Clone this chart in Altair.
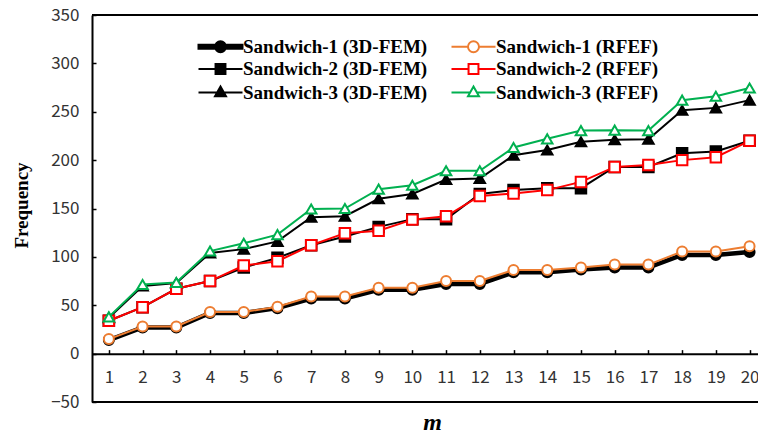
import altair as alt
import pandas as pd

# Mode number m and natural frequencies for three sandwich plates
modes = list(range(1, 21))

s1_fem = [14, 27, 27, 42, 42, 47, 57, 57, 66, 66, 72, 72, 84, 84, 87, 89, 89, 102, 102, 105]
s1_rfef = [15, 28, 28, 43, 43, 48.5, 59, 59, 68, 68, 75, 75, 86.5, 86.5, 89, 92, 92, 105.5, 105.5, 111]
s2_fem = [34, 48, 67, 75, 89, 99, 112, 121, 131, 139, 139, 165, 169, 171, 171, 193, 193, 207, 209, 220]
s2_rfef = [34, 48, 67, 75, 91, 95.5, 112, 124.5, 127, 138.5, 142, 163, 165.5, 169, 177.5, 193, 195, 200, 203, 220]
s3_fem = [37, 70, 73, 104, 108, 116, 141, 142, 160, 165, 180, 181, 205, 210.5, 219, 221, 221.5, 251.5, 254, 262]
s3_rfef = [38, 71.5, 73.5, 106, 114, 123, 149.5, 150, 170, 174, 189, 189, 213, 222, 230.5, 231, 230.5, 262, 266, 274.5]

# legend order: first column 3D-FEM, second column RFEF
series_names = [
    "Sandwich-1 (3D-FEM)", "Sandwich-2 (3D-FEM)", "Sandwich-3 (3D-FEM)",
    "Sandwich-1 (RFEF)", "Sandwich-2 (RFEF)", "Sandwich-3 (RFEF)",
]
series_values = [s1_fem, s2_fem, s3_fem, s1_rfef, s2_rfef, s3_rfef]
y_ticks = list(range(-50, 351, 50))

# styling per series: line colour, marker fill, marker shape, line width
line_colors = ["black", "black", "black", "#ED7D31", "#FF0000", "#00B050"]
marker_fills = ["black", "black", "black", "white", "white", "white"]
marker_shapes = ["circle", "square", "triangle-up", "circle", "square", "triangle-up"]
marker_sizes = [100, 110, 110, 100, 110, 110]
line_widths = [4.5, 2, 2, 2, 2, 2]

# legend glyphs: a short line through the marker (unit box, marker radius 1)
legend_paths = [
    "M-4,-0.38H4V0.38H-4Z M1,0A1,1 0 1,1 -1,0A1,1 0 1,1 1,0Z",
    "M-4,0H4 M-0.9,-0.9H0.9V0.9H-0.9Z",
    "M-4,0H4 M0,-1.1L1,0.7H-1Z",
    "M-4,0H-1M1,0H4 M1,0A1,1 0 1,1 -1,0A1,1 0 1,1 1,0Z",
    "M-4,0H-0.9M0.9,0H4 M-0.9,-0.9H0.9V0.9H-0.9Z",
    "M-4,0H-0.6M0.6,0H4 M0,-1.1L1,0.7H-1Z",
]

rows = []
for name, vals in zip(series_names, series_values):
    for m, f in zip(modes, vals):
        rows.append({"m": m, "f": f, "series": name})
df = pd.DataFrame(rows)

W, H = 666, 387
Y_MIN, Y_MAX = -50, 350
X_MIN, X_MAX = 0.5, 20.25
zero_from_top = H * (Y_MAX - 0) / (Y_MAX - Y_MIN)
zero_from_bottom = H - zero_from_top

num_font = "Noto Sans CJK SC"
serif = "Liberation Serif"

x_scale = alt.Scale(domain=[X_MIN, X_MAX], nice=False, zero=False)
y_scale = alt.Scale(domain=[Y_MIN, Y_MAX], nice=False, zero=False)

X = alt.X(
    "m:Q", scale=x_scale,
    axis=alt.Axis(
        orient="bottom", offset=-zero_from_bottom, values=modes, format="d",
        ticks=False, tickSize=0, labelPadding=16, labelFont=num_font,
        labelFontSize=17, labelColor="#333333", domainColor="black",
        domainWidth=2, grid=False, title="m", titleFont=serif,
        titleFontSize=24, titleFontWeight="bold", titleFontStyle="italic",
        titleColor="black", titleX=340, titleY=76, titleBaseline="alphabetic",
        titleAlign="center",
    ),
)
Y = alt.Y(
    "f:Q", scale=y_scale,
    axis=alt.Axis(
        orient="left", values=y_ticks, ticks=False, tickSize=0, labelPadding=13,
        labelFont=num_font, labelFontSize=17, labelColor="#333333",
        domainColor="black", domainWidth=2, grid=False, title="Frequency",
        titleFont=serif, titleFontSize=19, titleFontWeight="bold",
        titleColor="black", titleX=-71, titleY=190, titleAngle=270,
        titleBaseline="middle", titleAlign="center",
    ),
)

base = alt.Chart(df)
data_layers = []
for i, name in enumerate(series_names):
    sub = base.transform_filter(alt.datum.series == name)
    data_layers.append(
        sub.mark_line(color=line_colors[i], strokeWidth=line_widths[i]).encode(x=X, y=Y)
    )
    data_layers.append(
        sub.mark_point(
            shape=marker_shapes[i], size=marker_sizes[i], filled=False,
            fill=marker_fills[i], stroke=line_colors[i], strokeWidth=2,
            opacity=1,
        ).encode(x=X, y=Y)
    )
plot = alt.layer(*data_layers)

# inward-pointing ticks on the zero line and on the left frame
ticks = base.mark_point(opacity=0).encode(
    x=alt.X("m:Q", scale=x_scale, axis=alt.Axis(
        orient="top", offset=-zero_from_top, values=modes, labels=False,
        domain=False, tickSize=4, tickWidth=1.5, tickColor="black",
        grid=False, title="")),
    y=alt.Y("f:Q", scale=y_scale, axis=alt.Axis(
        orient="right", offset=-W, values=y_ticks, labels=False,
        domain=False, tickSize=4, tickWidth=1.5, tickColor="black",
        grid=False, title="")),
)

frame_src = alt.Chart(alt.Data(values=[{}]))
top_line = frame_src.mark_rule(color="black", strokeWidth=2).encode(
    x=alt.value(0), x2=alt.value(W), y=alt.value(0))
bottom_line = frame_src.mark_rule(color="black", strokeWidth=2).encode(
    x=alt.value(0), x2=alt.value(W), y=alt.value(H))

leg = alt.Legend(
    orient="none", legendX=119, legendY=22, columns=2, title=None,
    labelFont=serif, labelFontSize=19, labelFontWeight="bold",
    labelColor="black", labelLimit=400, labelOffset=13, symbolSize=121,
    symbolStrokeWidth=2, rowPadding=2.5, columnPadding=19, padding=0,
)
legend_layer = base.transform_filter("false").mark_point(strokeWidth=2, opacity=1).encode(
    stroke=alt.Stroke("series:N", scale=alt.Scale(domain=series_names, range=line_colors), legend=leg),
    fill=alt.Fill("series:N", scale=alt.Scale(domain=series_names, range=marker_fills), legend=leg),
    shape=alt.Shape("series:N", scale=alt.Scale(domain=series_names, range=legend_paths), legend=leg),
)

chart = alt.layer(plot, ticks, top_line, bottom_line, legend_layer).resolve_axis(
    x="independent", y="independent"
).properties(
    width=W, height=H,
    autosize=alt.AutoSizeParams(type="none"),
    padding={"left": 92, "top": 15, "right": 0, "bottom": 28},
    background="white",
).configure_view(stroke=None)

chart.save("out.html", embed_options={"renderer": "svg", "actions": False})
